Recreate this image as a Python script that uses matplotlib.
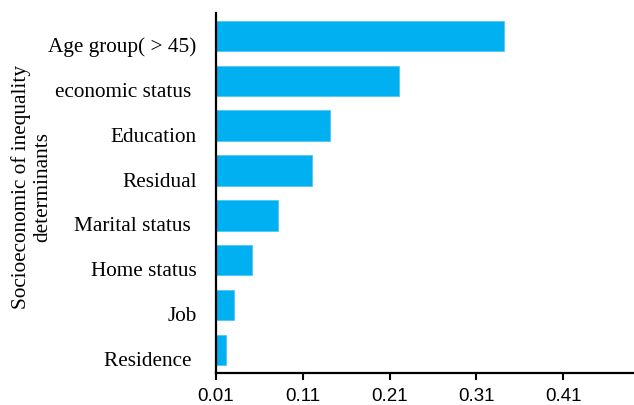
import matplotlib
matplotlib.use("Agg")
import matplotlib.pyplot as plt
import matplotlib.transforms as mtransforms

categories = ["Age group( > 45)", "economic status ", "Education", "Residual",
              "Marital status ", "Home status", "Job", "Residence "]
values = [0.342, 0.221, 0.141, 0.121, 0.081, 0.051, 0.031, 0.021]
xticks = [0.01, 0.11, 0.21, 0.31, 0.41]

fig = plt.figure(figsize=(6.34, 4.05), dpi=100)
ax = fig.add_axes([0.3407, 0.0795, 0.6593, 0.888])

ypos = list(range(len(categories)))[::-1]
ax.barh(ypos, values, height=0.67, color="#00B0F0", edgecolor="#4fc8f4", linewidth=0.6)

ax.set_xlim(0.01, 0.4916)
ax.set_ylim(-0.5, 7.5)
ax.set_xticks(xticks)
ax.set_xticklabels([f"{t:.2f}" for t in xticks], family="Liberation Sans", fontsize=13.5)
ax.set_yticks(ypos)
ax.set_yticklabels(categories, family="Liberation Serif", fontsize=15.3)
ax.tick_params(axis="y", length=0, pad=14)
ax.tick_params(axis="x", length=5, width=1.5, direction="out", pad=6)

# labels sit a bit below the bar centres in the original
shift = mtransforms.ScaledTranslation(0, -0.09, fig.dpi_scale_trans)
for lbl in ax.get_yticklabels():
    lbl.set_transform(lbl.get_transform() + shift)

for s in ["top", "right"]:
    ax.spines[s].set_visible(False)
for s in ["left", "bottom"]:
    ax.spines[s].set_linewidth(1.6)
    ax.spines[s].set_color("black")

fig.text(0.05, 0.5395, "Socioeconomic of inequality\ndeterminants", rotation=90,
         ha="center", va="center", family="Liberation Serif", fontsize=15.3, linespacing=1.15)

fig.savefig("out.png", dpi=100)
